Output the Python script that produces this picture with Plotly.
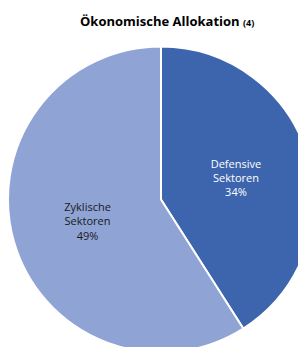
import plotly.graph_objects as go

labels = ["Defensive<br>Sektoren", "Zyklische<br>Sektoren"]
values = [34, 49]
colors = ["#3d65ae", "#8fa3d5"]
text_colors = ["#ffffff", "#1a1a1a"]

fig = go.Figure(go.Pie(
    labels=labels,
    values=values,
    sort=False,
    direction="clockwise",
    rotation=0,
    marker=dict(colors=colors, line=dict(color="white", width=2)),
    texttemplate="%{label}<br>%{value}%",
    textposition="inside",
    insidetextorientation="horizontal",
    textfont=dict(family="Open Sans, Liberation Sans, sans-serif", size=11, color=text_colors),
    hoverinfo="label+value",
    showlegend=False,
))

fig.update_layout(
    width=306, height=347,
    margin=dict(l=0, r=0, t=36, b=0),
    paper_bgcolor="white",
    plot_bgcolor="white",
    title=dict(
        text="<b>Ökonomische Allokation <span style='font-size:9px'>(4)</span></b>",
        x=0.52, xanchor="center", y=0.96, yanchor="middle",
        font=dict(family="Open Sans, Liberation Sans, sans-serif", size=13, color="#000000"),
    ),
)

fig.write_html("out.html")
